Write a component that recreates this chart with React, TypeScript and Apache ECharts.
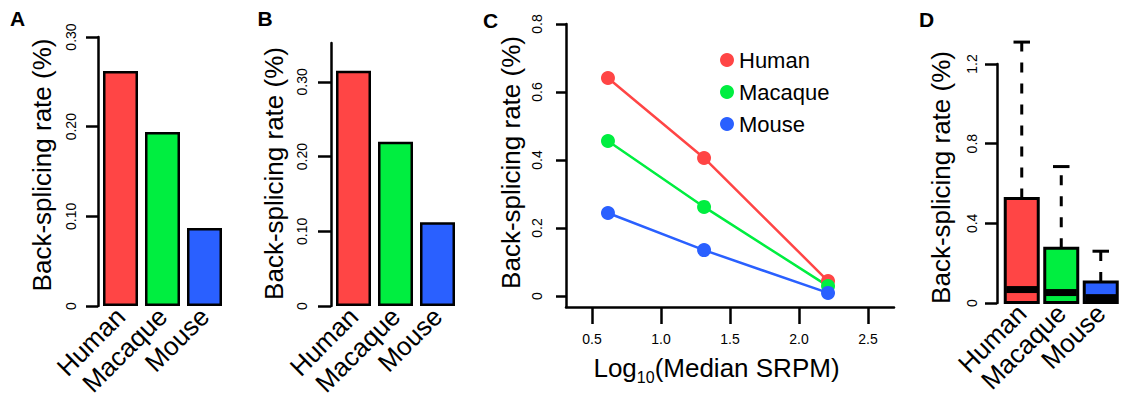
import React, { useEffect, useRef } from 'react';
import * as echarts from 'echarts';

const species = ['Human', 'Macaque', 'Mouse'];
const speciesColors = ['#FF4545', '#00EE40', '#2A60FF'];
const rateA = [0.262, 0.194, 0.087];
const rateB = [0.315, 0.22, 0.112];
const log10MedianSRPM = [0.616, 1.312, 2.21];
const humanRate = [0.641, 0.406, 0.044];
const macaqueRate = [0.456, 0.262, 0.029];
const mouseRate = [0.244, 0.135, 0.009];
const boxQ1 = [0.002, 0.002, 0.002];
const boxMedian = [0.0675, 0.0525, 0.027];
const boxQ3 = [0.525, 0.275, 0.105];
const boxUpper = [1.31, 0.685, 0.26];
const ticksAB = [0, 0.1, 0.2, 0.3];
const ticksCy = [0, 0.2, 0.4, 0.6, 0.8];
const ticksCx = [0.5, 1.0, 1.5, 2.0, 2.5];
const ticksD = [0, 0.4, 0.8, 1.2];
const yTitle = 'Back-splicing rate (%)';

const FONT = "'Liberation Sans', Arial, Helvetica, sans-serif";

function yAxisCfg(gridIndex: number, min: number, max: number, ticks: number[], fmt: (v: number) => string, tickLen: number, margin: number, offset: number) {
  return {
    type: 'value', gridIndex, min, max, offset,
    splitLine: { show: false },
    axisLine: { show: true, onZero: false, lineStyle: { color: '#000', width: 2.5 } },
    axisTick: { show: true, length: tickLen, customValues: ticks, lineStyle: { color: '#000', width: 2.5 } },
    axisLabel: { show: true, rotate: 90, margin, fontSize: 14, color: '#000', fontFamily: FONT, customValues: ticks, formatter: fmt },
  };
}

function catAxisCfg(gridIndex: number) {
  return {
    type: 'category', gridIndex, data: species,
    axisLine: { show: false }, axisTick: { show: false }, splitLine: { show: false },
    axisLabel: { show: true, rotate: 45, interval: 0, margin: 6, fontSize: 26, color: '#000', fontFamily: FONT },
  };
}

const fmt2 = (v: number) => (v === 0 ? '0' : v.toFixed(2));
const fmt1 = (v: number) => (v === 0 ? '0' : v.toFixed(1));

function barSeries(name: string, idx: number, values: number[]) {
  return {
    name, type: 'bar', xAxisIndex: idx, yAxisIndex: idx, barWidth: 35,
    itemStyle: { borderColor: '#000', borderWidth: 2.5 },
    data: values.map((v, i) => ({ value: v, itemStyle: { color: speciesColors[i] } })),
  };
}

function lineSeries(name: string, values: number[], color: string) {
  return {
    name, type: 'line', xAxisIndex: 2, yAxisIndex: 2,
    symbol: 'circle', symbolSize: 14, showSymbol: true,
    lineStyle: { width: 2.5, color }, itemStyle: { color },
    data: log10MedianSRPM.map((x, i) => [x, values[i]]),
  };
}

function titleText(x: number, y: number) {
  return {
    type: 'text', x, y, rotation: Math.PI / 2,
    style: { text: yTitle, fontSize: 26, fill: '#000', fontFamily: FONT, align: 'center', verticalAlign: 'middle' },
  };
}

function letter(t: string, x: number, y: number) {
  return {
    type: 'text', x, y,
    style: { text: t, fontSize: 21, fontWeight: 'bold', fill: '#000', fontFamily: FONT, align: 'center', verticalAlign: 'middle' },
  };
}

export default function App() {
  const ref = useRef<HTMLDivElement>(null);
  useEffect(() => {
    if (!ref.current) return;
    const chart = echarts.init(ref.current, null, { renderer: 'svg' });
    const option: any = {
      animation: false,
      backgroundColor: '#fff',
      textStyle: { fontFamily: FONT },
      grid: [
        { left: 99.5, top: 37, width: 126, height: 270 },
        { left: 332.5, top: 43, width: 126, height: 264 },
        { left: 566, top: 24, width: 328, height: 283 },
        { left: 1002, top: 64, width: 118.5, height: 239 },
      ],
      xAxis: [
        catAxisCfg(0),
        catAxisCfg(1),
        {
          type: 'value', gridIndex: 2, min: 0.312, max: 2.688,
          splitLine: { show: false },
          axisLine: { show: true, onZero: false, lineStyle: { color: '#000', width: 2.5 } },
          axisTick: { show: true, length: 17, customValues: ticksCx, lineStyle: { color: '#000', width: 2.5 } },
          axisLabel: { show: true, margin: 25, fontSize: 14, color: '#000', fontFamily: FONT, customValues: ticksCx, formatter: (v: number) => v.toFixed(1) },
        },
        catAxisCfg(3),
      ],
      yAxis: [
        yAxisCfg(0, 0, 0.3, ticksAB, fmt2, 12, 20, 1.5),
        yAxisCfg(1, 0, 0.352, ticksAB, fmt2, 13, 22, 1.5),
        yAxisCfg(2, -0.0324, 0.8, ticksCy, fmt1, 10, 22, 0),
        yAxisCfg(3, 0, 1.2, ticksD, fmt1, 12, 18, 5),
      ],
      legend: {
        show: true, data: species, orient: 'vertical', left: 720, top: 48, padding: 0,
        itemWidth: 14, itemHeight: 14, itemGap: 8, icon: 'circle', selectedMode: false,
        textStyle: { fontSize: 22, lineHeight: 24, color: '#000', fontFamily: FONT },
      },
      series: [
        barSeries('A', 0, rateA),
        barSeries('B', 1, rateB),
        lineSeries('Human', humanRate, speciesColors[0]),
        lineSeries('Macaque', macaqueRate, speciesColors[1]),
        lineSeries('Mouse', mouseRate, speciesColors[2]),
        {
          name: 'D', type: 'custom', xAxisIndex: 3, yAxisIndex: 3, clip: false,
          encode: { x: 0, y: [1, 2, 3, 4] },
          data: species.map((s, i) => [i, boxQ1[i], boxMedian[i], boxQ3[i], boxUpper[i]]),
          renderItem: (params: any, api: any) => {
            const i = api.value(0);
            const c = api.coord([i, 0]);
            const band = api.size([1, 0])[0];
            const w = band * 33 / 39.5;
            const x0 = c[0] - w / 2;
            const yQ1 = api.coord([i, api.value(1)])[1];
            const yMed = api.coord([i, api.value(2)])[1];
            const yQ3 = api.coord([i, api.value(3)])[1];
            const yUp = api.coord([i, api.value(4)])[1];
            return {
              type: 'group',
              children: [
                { type: 'line', shape: { x1: c[0], y1: yQ3, x2: c[0], y2: yUp }, style: { stroke: '#000', lineWidth: 3, lineDash: [10, 11] } },
                { type: 'line', shape: { x1: c[0] - w / 4, y1: yUp, x2: c[0] + w / 4, y2: yUp }, style: { stroke: '#000', lineWidth: 3 } },
                { type: 'rect', shape: { x: x0, y: yQ3, width: w, height: yQ1 - yQ3 }, style: { fill: speciesColors[params.dataIndex], stroke: '#000', lineWidth: 3 } },
                { type: 'line', shape: { x1: x0 + 1, y1: yMed, x2: x0 + w - 1, y2: yMed }, style: { stroke: '#000', lineWidth: 7 } },
              ],
            };
          },
        },
      ],
      graphic: [
        letter('A', 17.5, 18),
        letter('B', 265, 18.5),
        letter('C', 490.5, 20),
        letter('D', 926.5, 19),
        titleText(42, 165),
        titleText(274, 173.5),
        titleText(511, 162.5),
        titleText(941, 177.5),
        {
          type: 'text', x: 716.5, y: 370,
          style: {
            text: '{a|Log}{s|10}{a|(Median SRPM)}',
            fill: '#000', fontFamily: FONT, align: 'center', verticalAlign: 'middle',
            rich: {
              a: { fontSize: 26, verticalAlign: 'top', fill: '#000', fontFamily: FONT },
              s: { fontSize: 16, verticalAlign: 'top', padding: [15, 0, 0, 0], fill: '#000', fontFamily: FONT },
            },
          },
        },
      ],
    };
    chart.setOption(option);
    return () => chart.dispose();
  }, []);
  return <div ref={ref} style={{ position: 'fixed', left: 0, top: 0, width: 1121, height: 399, background: '#fff' }} />;
}
